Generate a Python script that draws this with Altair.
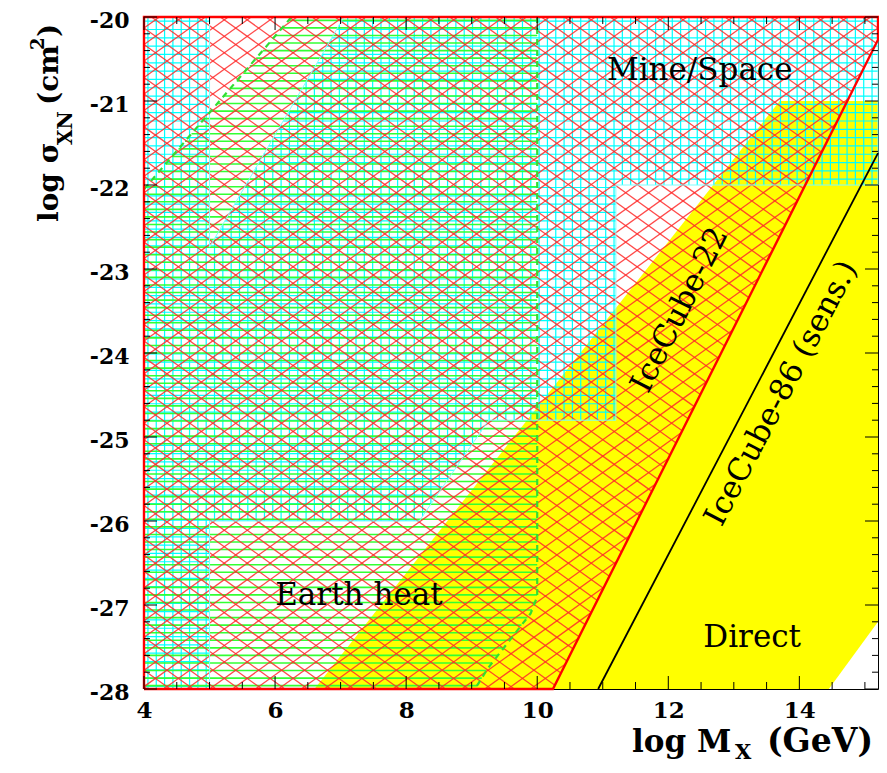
import altair as alt
import pandas as pd

# ---------------- data ----------------
X_DOMAIN = [4, 15.2]
Y_DOMAIN = [-28, -20]

x_major = [4, 6, 8, 10, 12, 14]
x_minor = [4.5, 5, 5.5, 6.5, 7, 7.5, 8.5, 9, 9.5, 10.5, 11, 11.5, 12.5, 13, 13.5, 14.5, 15]
y_major = [-20, -21, -22, -23, -24, -25, -26, -27, -28]
y_minor = [-20.2, -20.4, -20.6, -20.8, -21.2, -21.4, -21.6, -21.8,
           -22.2, -22.4, -22.6, -22.8, -23.2, -23.4, -23.6, -23.8,
           -24.2, -24.4, -24.6, -24.8, -25.2, -25.4, -25.6, -25.8,
           -26.2, -26.4, -26.6, -26.8, -27.2, -27.4, -27.6, -27.8]

# Direct detection region (solid yellow): lower / upper boundary vs log M
yellow_x = [6.6, 13.7, 14.45, 15.2]
yellow_lo = [-28, -28, -28, -27.2]
yellow_hi = [-28, -21, -21, -21]

# IceCube-22 excluded region (red cross-hatch)
red_x = [4, 10.24, 15.2, 15.2, 4]
red_y = [-28, -28, -20.27, -20, -20]

# Mine/Space region (cyan grid)
cyan_x = [4, 4, 5, 5, 7.05, 15.2, 15.2, 11.2, 11.2, 9.26, 8.2, 5, 5]
cyan_y = [-28, -20, -20, -22.74, -20, -20, -22, -22, -24.8, -24.8, -26, -26, -28]

# Earth heat region (green horizontal hatch)
green_x = [4, 4, 6.25, 10, 10, 9.9, 9.75, 9.55, 9.25, 9.05]
green_y = [-28, -22.05, -20, -20, -26.9, -27.1, -27.25, -27.45, -27.75, -28]

# boundary curves
ic22_x = [10.24, 15.2]
ic22_y = [-28, -20.27]
ic86_x = [10.93, 15.2]
ic86_y = [-28, -21.62]

# ---------------- style ----------------
W, H = 734, 672
SERIF = "DejaVu Serif"
CYAN_DX, CYAN_DY = 0.127, 0.099
GREEN_DY = 0.09
RED_SLOPE, RED_DY = 0.56, 0.196

xs = alt.Scale(domain=X_DOMAIN, nice=False, zero=False)
ys = alt.Scale(domain=Y_DOMAIN, nice=False, zero=False)

X_AX = alt.Axis(values=x_major, ticks=False, domain=False, grid=False, title=None,
                labelFont=SERIF, labelFontWeight="bold", labelFontSize=23,
                labelColor="black", labelPadding=10, labelBaseline="top",
                labelFlush=False, labelExpr="'' + datum.value")
Y_AX = alt.Axis(values=y_major, ticks=False, domain=False, grid=False, title=None,
                labelFont=SERIF, labelFontWeight="bold", labelFontSize=22,
                labelColor="black", labelPadding=15, labelOffset=3,
                labelFlush=False, labelExpr="'' + datum.value")


def X(field):
    return alt.X(field, scale=xs, axis=X_AX)


def Y(field):
    return alt.Y(field, scale=ys, axis=Y_AX)


def clip(px, py, ox, oy, dx, dy):
    """Clip the infinite line (ox,oy)+t(dx,dy) to a polygon (even-odd)."""
    ts = []
    n = len(px)
    for i in range(n):
        ax, ay = px[i], py[i]
        bx, by = px[(i + 1) % n], py[(i + 1) % n]
        ex, ey = bx - ax, by - ay
        den = dx * ey - dy * ex
        if abs(den) < 1e-12:
            continue
        wx, wy = ax - ox, ay - oy
        t = (wx * ey - wy * ex) / den
        s = (wx * dy - wy * dx) / den
        if 0 <= s < 1:
            ts.append(t)
    ts.sort()
    segs = []
    for i in range(0, len(ts) - 1, 2):
        t1, t2 = ts[i], ts[i + 1]
        segs.append((ox + t1 * dx, oy + t1 * dy, ox + t2 * dx, oy + t2 * dy))
    return segs


def seg_df(segs):
    return pd.DataFrame(segs, columns=["x", "y", "x2", "y2"])


# red cross-hatch
red_segs = []
k = 0
while True:
    c = -28 - RED_SLOPE * 11.5 + k * RED_DY + 1e-5
    if c > -20 + RED_SLOPE * 11.5:
        break
    red_segs += clip(red_x, red_y, 4, c, 1, RED_SLOPE)
    red_segs += clip(red_x, red_y, 4, c, 1, -RED_SLOPE)
    k += 1

# cyan grid
cyan_segs = []
k = 0
while 4 + k * CYAN_DX < 15.2:
    cyan_segs += clip(cyan_x, cyan_y, 4.06 + k * CYAN_DX + 1e-5, -29, 0, 1)
    k += 1
k = 0
while -20 - k * CYAN_DY > -28:
    cyan_segs += clip(cyan_x, cyan_y, 3, -20.05 - k * CYAN_DY + 1e-5, 1, 0)
    k += 1

# green horizontal hatch
green_segs = []
k = 0
while -28 + k * GREEN_DY < -20:
    green_segs += clip(green_x, green_y, 3, -27.96 + k * GREEN_DY + 1e-5, 1, 0)
    k += 1


def rules(segs, color, width, opacity=1.0):
    return alt.Chart(seg_df(segs)).mark_rule(
        color=color, strokeWidth=width, opacity=opacity
    ).encode(x=X("x:Q"), y=Y("y:Q"), x2="x2:Q", y2="y2:Q")


def path(xv, yv, color, width, dash=None, closed=False):
    xx, yy = list(xv), list(yv)
    if closed:
        xx.append(xx[0])
        yy.append(yy[0])
    df = pd.DataFrame({"x": xx, "y": yy, "o": range(len(xx))})
    kw = dict(color=color, strokeWidth=width)
    if dash:
        kw["strokeDash"] = dash
    return alt.Chart(df).mark_line(**kw).encode(x=X("x:Q"), y=Y("y:Q"), order="o:Q")


yellow = alt.Chart(pd.DataFrame({"x": yellow_x, "lo": yellow_lo, "hi": yellow_hi})).mark_area(
    color="#ffff00", opacity=1
).encode(x=X("x:Q"), y=Y("lo:Q"), y2="hi:Q")

layers = [
    yellow,
    rules(cyan_segs, "#00ffff", 1.2),
    rules(green_segs, "#33ff33", 1.6),
    rules(red_segs, "#ff2a2a", 1.3, 0.85),
    path(cyan_x, cyan_y, "#7fffff", 1.0, closed=True),
    path(green_x[1:3], green_y[1:3], "#33dd33", 2.2, dash=[6, 5]),
    path(green_x[3:], green_y[3:], "#33dd33", 2.2, dash=[6, 5]),
    path(red_x, red_y, "#ff0000", 2.4, closed=True),
    path(ic86_x, ic86_y, "black", 1.8),
]


# inward ticks on all four sides
def xticks(vals, length):
    d = pd.DataFrame({"t": vals})
    b = alt.Chart(d).mark_rule(color="black", strokeWidth=1).encode(
        x=X("t:Q"), y=alt.value(H), y2=alt.value(H - length))
    t = alt.Chart(d).mark_rule(color="black", strokeWidth=1).encode(
        x=X("t:Q"), y=alt.value(0), y2=alt.value(length))
    return [b, t]


def yticks(vals, length):
    d = pd.DataFrame({"t": vals})
    l = alt.Chart(d).mark_rule(color="black", strokeWidth=1).encode(
        y=Y("t:Q"), x=alt.value(0), x2=alt.value(length))
    r = alt.Chart(d).mark_rule(color="black", strokeWidth=1).encode(
        y=Y("t:Q"), x=alt.value(W), x2=alt.value(W - length))
    return [l, r]


layers += xticks(x_major, 13) + xticks(x_minor, 7) + yticks(y_major, 13) + yticks(y_minor, 6)

# region labels (data coordinates)
labels = [
    ("Mine/Space", 12.48, -20.75, 0),
    ("Earth heat", 7.28, -27.0, 0),
    ("Direct", 13.28, -27.5, 0),
]
for txt, lx, ly, ang in labels:
    layers.append(
        alt.Chart(pd.DataFrame({"x": [lx], "y": [ly]})).mark_text(
            text=txt, font=SERIF, fontSize=31, color="black", align="center",
            baseline="alphabetic"
        ).encode(x=X("x:Q"), y=Y("y:Q"))
    )

rot_labels = [
    ("IceCube-22", 12.18, -23.49, 296.6),
    ("IceCube-86 (sens.)", 13.73, -24.48, 297.6),
]
for txt, lx, ly, ang in rot_labels:
    layers.append(
        alt.Chart(pd.DataFrame({"x": [lx], "y": [ly]})).mark_text(
            text=txt, font=SERIF, fontSize=31, color="black", align="center",
            baseline="middle", angle=ang
        ).encode(x=X("x:Q"), y=Y("y:Q"))
    )

# axis titles with sub/superscripts (pixel layout relative to the plot area)
one = pd.DataFrame({"a": [0]})


def ptext(txt, px, py, size, angle=0, align="left", weight="bold"):
    return alt.Chart(one).mark_text(
        text=txt, font=SERIF, fontSize=size, fontWeight=weight, color="black",
        align=align, baseline="alphabetic", angle=angle
    ).encode(x=alt.value(px), y=alt.value(py))


layers += [
    ptext("log M", 488, 735, 31),
    ptext("X", 591, 742, 21),
    ptext("(GeV)", 729, 735, 33, align="right"),
    ptext("log σ", -86, 205, 28, angle=270),
    ptext("XN", -72, 128, 20, angle=270),
    ptext("(cm", -86, 88, 28, angle=270),
    ptext("2", -100, 33, 18, angle=270),
    ptext(")", -86, 20, 28, angle=270),
]

chart = alt.layer(*layers).properties(
    width=W, height=H,
    autosize=alt.AutoSizeParams(type="none"),
    padding={"left": 136, "top": 9, "right": 1, "bottom": 76},
).configure_view(stroke="black", strokeWidth=1)

chart.save("out.html", embed_options={"renderer": "svg", "actions": False})
